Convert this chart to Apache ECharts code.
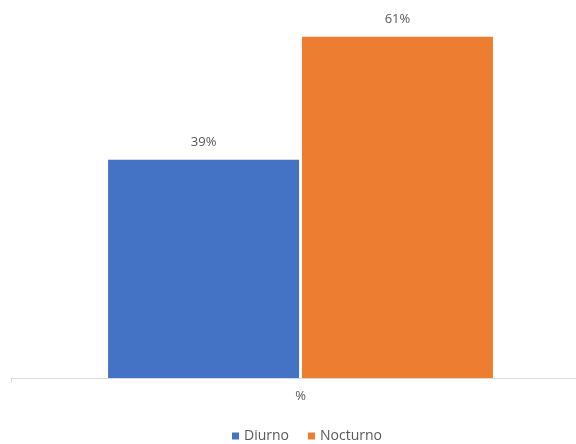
<!DOCTYPE html>
<html>
<head>
<meta charset="utf-8">
<script src="https://cdn.jsdelivr.net/npm/echarts@6/dist/echarts.min.js"></script>
<style>html,body{margin:0;padding:0;background:#fff}#c{width:576px;height:444px}</style>
</head>
<body>
<div id="c"></div>
<script>
const categories = ["%"];
const seriesNames = ["Diurno", "Nocturno"];
const diurno = [39];
const nocturno = [61];
const colors = ["#4472C4", "#ED7D31"];

const chart = echarts.init(document.getElementById('c'), null, {renderer: 'canvas'});
const font = "'Open Sans', 'Noto Sans', sans-serif";
const lbl = {show: true, position: 'top', distance: 11, formatter: '{c}%', color: '#595959', fontSize: 13, fontFamily: font};
chart.setOption({
  animation: false,
  grid: [
    {left: 25, right: 0, top: 20, bottom: 66, containLabel: false},
    {left: 11, right: 0, top: 20, bottom: 66, containLabel: false}
  ],
  legend: {
    data: seriesNames, top: 424, left: 227, itemWidth: 7, itemHeight: 7, itemGap: 19, icon: 'rect',
    textStyle: {color: '#595959', fontSize: 14, fontFamily: font}
  },
  xAxis: [
    {
      type: 'category', data: categories, gridIndex: 0,
      axisLine: {show: false}, axisTick: {show: false},
      axisLabel: {color: '#595959', fontSize: 13, margin: 12, fontFamily: font}
    },
    {
      type: 'category', data: categories, gridIndex: 1,
      axisLine: {lineStyle: {color: '#d9d9d9'}},
      axisTick: {show: true, length: 5, lineStyle: {color: '#d9d9d9'}},
      axisLabel: {show: false}
    }
  ],
  yAxis: [
    {type: 'value', min: 0, max: 64, show: false, gridIndex: 0},
    {type: 'value', min: 0, max: 64, show: false, gridIndex: 1}
  ],
  series: [
    {name: seriesNames[0], type: 'bar', data: diurno, barWidth: 191, barGap: '1.5%', itemStyle: {color: colors[0]}, label: lbl},
    {name: seriesNames[1], type: 'bar', data: nocturno, barWidth: 191, itemStyle: {color: colors[1]}, label: lbl}
  ]
});
</script>
</body>
</html>
